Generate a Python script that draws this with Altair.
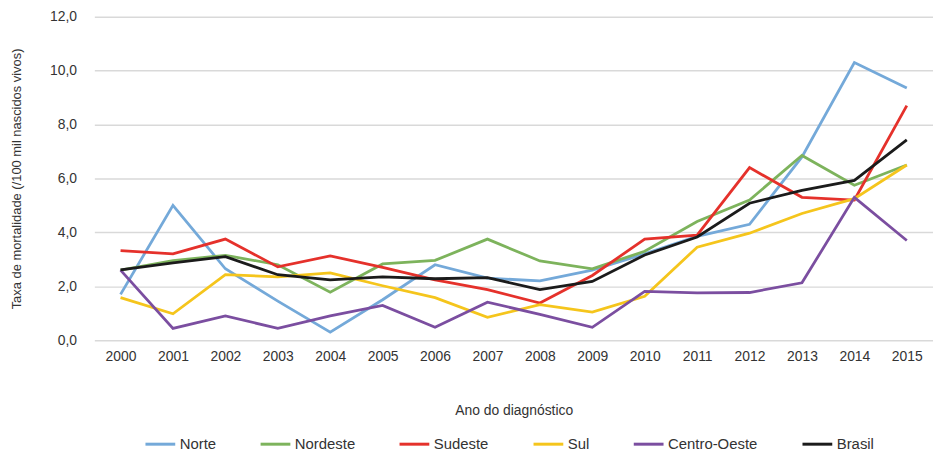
import altair as alt
import pandas as pd

years = [str(y) for y in range(2000, 2016)]
regions = ["Norte", "Nordeste", "Sudeste", "Sul", "Centro-Oeste", "Brasil"]
colors = ["#74a9d9", "#7db35c", "#e5312b", "#f5c51c", "#7b4ea0", "#1b1b1b"]

norte = [1.7, 5.0, 2.65, 1.45, 0.3, 1.5, 2.8, 2.3, 2.2, 2.6, 3.2, 3.85, 4.3, 6.8, 10.3, 9.35]
nordeste = [2.6, 2.95, 3.15, 2.8, 1.78, 2.83, 2.96, 3.75, 2.94, 2.65, 3.3, 4.4, 5.2, 6.85, 5.75, 6.5]
sudeste = [3.32, 3.2, 3.75, 2.72, 3.13, 2.7, 2.24, 1.88, 1.38, 2.4, 3.75, 3.9, 6.4, 5.3, 5.2, 8.7]
sul = [1.58, 0.98, 2.43, 2.35, 2.5, 2.02, 1.58, 0.85, 1.32, 1.04, 1.63, 3.45, 3.97, 4.7, 5.25, 6.5]
centro_oeste = [2.6, 0.44, 0.9, 0.44, 0.9, 1.29, 0.48, 1.41, 0.96, 0.48, 1.81, 1.76, 1.77, 2.13, 5.3, 3.7]
brasil = [2.61, 2.87, 3.1, 2.43, 2.24, 2.35, 2.28, 2.32, 1.88, 2.18, 3.16, 3.83, 5.08, 5.56, 5.93, 7.43]

series = [norte, nordeste, sudeste, sul, centro_oeste, brasil]
rows = []
for name, vals in zip(regions, series):
    for y, v in zip(years, vals):
        rows.append({"Ano": y, "Regiao": name, "Taxa": v})
df = pd.DataFrame(rows)

font = "Liberation Sans"

chart = alt.Chart(df).mark_line(strokeWidth=2.8).encode(
    x=alt.X("Ano:O", sort=years, title="Ano do diagnóstico",
            axis=alt.Axis(labelAngle=0, ticks=False, domain=False, grid=False,
                          labelFontSize=14, labelColor="#333333", labelPadding=9,
                          titleFontSize=14, titleFontWeight="normal", titleColor="#333333",
                          titlePadding=41, labelFont=font, titleFont=font)),
    y=alt.Y("Taxa:Q", title="Taxa de mortalidade (/100 mil nascidos vivos)",
            scale=alt.Scale(domain=[0, 12], nice=False),
            axis=alt.Axis(values=[0, 2, 4, 6, 8, 10, 12], ticks=False, domain=False,
                          labelExpr="replace(format(datum.value, '.1f'), '.', ',')",
                          labelFontSize=14, labelColor="#333333", labelPadding=18,
                          gridColor="#d9d9d9", gridWidth=1.5,
                          titleFontSize=13, titleFontWeight="normal", titleColor="#333333",
                          titlePadding=26, labelFont=font, titleFont=font)),
    color=alt.Color("Regiao:N", sort=regions, title=None,
                    scale=alt.Scale(domain=regions, range=colors),
                    legend=alt.Legend(orient="none", direction="horizontal", columns=6,
                                      legendX=50, legendY=414,
                                      symbolType="stroke", symbolSize=900, symbolStrokeWidth=3,
                                      labelFontSize=15, labelColor="#333333", labelFont=font,
                                      labelOffset=3, columnPadding=38)),
    order=alt.Order("Ano:O"),
).properties(
    width=845, height=326,
    autosize=alt.AutoSizeParams(type="none"),
    padding={"left": 87, "top": 7, "right": 0, "bottom": 125},
).configure_view(stroke=None)

chart.save("out.html", embed_options={"renderer": "svg", "actions": False})
